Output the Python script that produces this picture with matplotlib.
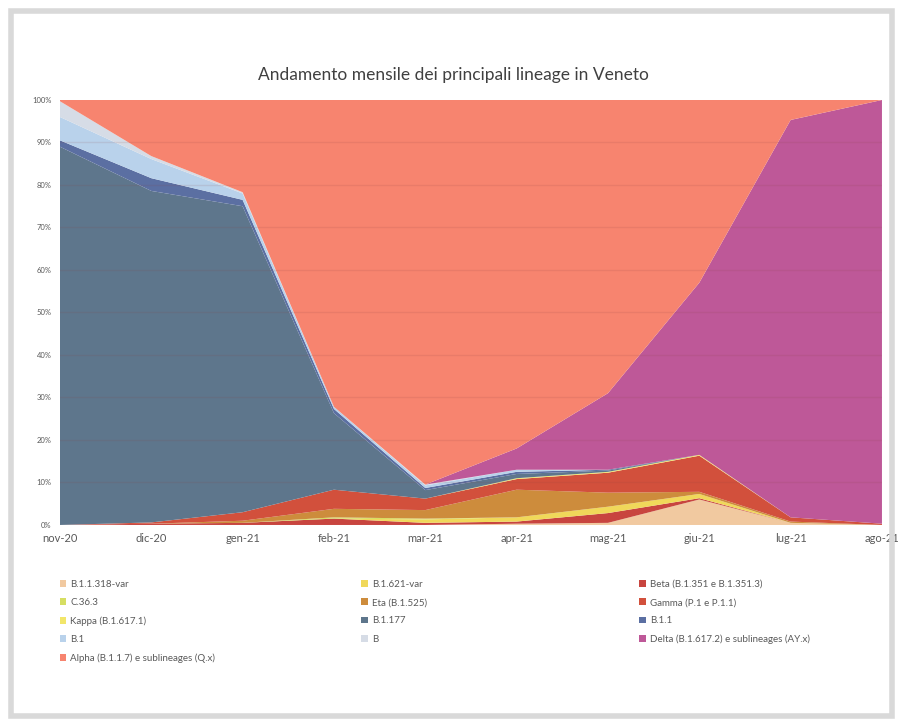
import matplotlib.pyplot as plt
from matplotlib.patches import Rectangle, Patch
import numpy as np

plt.rcParams['font.family'] = ['Lato', 'DejaVu Sans']

months = ["nov-20", "dic-20", "gen-21", "feb-21", "mar-21", "apr-21",
          "mag-21", "giu-21", "lug-21", "ago-21"]

# percentuali mensili
b11318 = [0, 0, 0, 0, 0, 0.3, 0.5, 6.0, 0.5, 0]
beta = [0, 0.3, 0.5, 1.5, 0.5, 0.5, 2.3, 0.3, 0, 0]
b1621 = [0, 0, 0, 0, 0.8, 1.0, 1.5, 1.0, 0, 0]
c363 = [0, 0, 0, 0.3, 0.2, 0, 0, 0, 0, 0]
eta = [0, 0, 0.5, 2.0, 2.0, 6.5, 3.3, 0.5, 0.3, 0]
gamma = [0, 0.3, 2.0, 4.5, 2.7, 2.5, 4.7, 8.5, 1.0, 0.3]
kappa = [0, 0, 0, 0, 0, 0.2, 0.2, 0.2, 0, 0]
b1177 = [89, 78, 72, 18, 2.0, 1.0, 0.3, 0, 0, 0]
b11 = [1.5, 3, 1.5, 1, 0.5, 0.5, 0.2, 0, 0, 0]
b1 = [5.5, 4.5, 1.5, 0.5, 0.6, 0.5, 0, 0, 0, 0]
b = [3.7, 0.7, 0.3, 0, 0.2, 0, 0, 0, 0, 0]
delta = [0, 0, 0, 0, 0, 5.0, 18, 40.5, 93.5, 99.7]
alpha = [0.3, 13.2, 21.7, 72.2, 90.5, 82.0, 69.0, 43.0, 4.7, 0]

labels = {
    "b11318": "B.1.1.318-var",
    "b1621": "B.1.621-var",
    "beta": "Beta (B.1.351 e B.1.351.3)",
    "c363": "C.36.3",
    "eta": "Eta (B.1.525)",
    "gamma": "Gamma (P.1 e P.1.1)",
    "kappa": "Kappa (B.1.617.1)",
    "b1177": "B.1.177",
    "b11": "B.1.1",
    "b1": "B.1",
    "b": "B",
    "delta": "Delta (B.1.617.2) e sublineages (AY.x)",
    "alpha": "Alpha (B.1.1.7) e sublineages (Q.x)",
}
colors = {
    "b11318": "#F1C9A0", "b1621": "#F0D85A", "beta": "#C8453F",
    "c363": "#D6DE62", "eta": "#CD8C3C", "gamma": "#D2503C",
    "kappa": "#F2E66A", "b1177": "#5E768C", "b11": "#5B6FA2",
    "b1": "#B9D2EB", "b": "#D6DCE6", "delta": "#BE5898",
    "alpha": "#F7846F",
}
series = {"b11318": b11318, "beta": beta, "b1621": b1621, "c363": c363,
          "eta": eta, "gamma": gamma, "kappa": kappa, "b1177": b1177,
          "b11": b11, "b1": b1, "b": b, "delta": delta, "alpha": alpha}

fig = plt.figure(figsize=(9.03, 7.25), dpi=100)
fig.patches.append(Rectangle((0.012, 0.013), 0.976, 0.972, transform=fig.transFigure,
                             fill=False, edgecolor="#D9D9D9", lw=4))
ax = fig.add_axes([0.0664, 0.2759, 0.9103, 0.5862])

x = np.arange(len(months))
keys = list(series.keys())
ax.stackplot(x, *[series[k] for k in keys], colors=[colors[k] for k in keys], lw=0)

for yv in range(10, 100, 10):
    ax.axhline(yv, color="#8a4040", alpha=0.12, lw=1, zorder=3)

ax.set_xlim(0, len(months) - 1)
ax.set_ylim(0, 100)
ax.set_xticks(x)
ax.set_xticklabels(months, fontsize=8, color="#595959")
ax.set_yticks(range(0, 101, 10))
ax.set_yticklabels([f"{v}%" for v in range(0, 101, 10)], fontsize=5.5, color="#595959")
ax.tick_params(length=0, pad=6)
for s in ax.spines.values():
    s.set_visible(False)

fig.text(0.502, 0.897, "Andamento mensile dei principali lineage in Veneto",
         ha="center", va="center", fontsize=12.5, color="#404040")

cols = [["b11318", "c363", "kappa", "b1", "alpha"],
        ["b1621", "eta", "b1177", "b"],
        ["beta", "gamma", "b11", "delta"]]
xpos = [0.066, 0.400, 0.708]
for ks, xp in zip(cols, xpos):
    hs = [Patch(facecolor=colors[k], label=labels[k]) for k in ks]
    leg = fig.legend(handles=hs, loc="upper left", bbox_to_anchor=(xp, 0.200),
                     frameon=False, fontsize=7, handlelength=0.7, handleheight=0.7,
                     handletextpad=0.4, labelspacing=0.95, borderaxespad=0,
                     borderpad=0, labelcolor="#595959")

fig.savefig("out.png", dpi=100)
